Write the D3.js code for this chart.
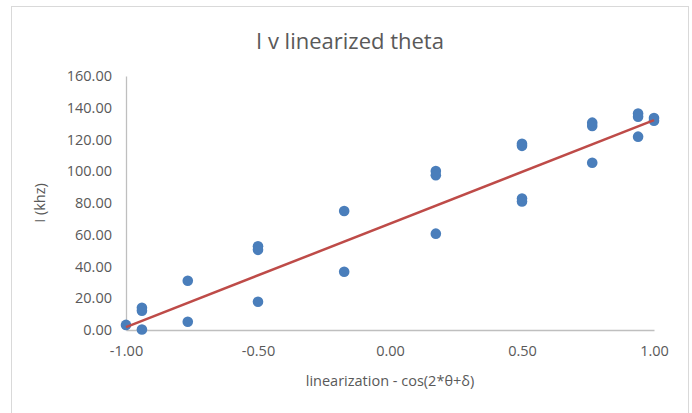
<!DOCTYPE html>
<html>
<head>
<meta charset="utf-8">
<script src="https://cdn.jsdelivr.net/npm/d3@7"></script>
<style>
  html, body { margin: 0; padding: 0; background: #ffffff; }
  svg { display: block; }
  text { font-family: "Open Sans", "Liberation Sans", sans-serif; fill: #595959; }
</style>
</head>
<body>
<svg id="chart" width="692" height="413"></svg>
<script>
// ---- data ----
const title = "I v linearized theta";
const xTitle = "linearization - cos(2*\u03B8+\u03B4)";
const yTitle = "I (khz)";

const xValues = [
  -1,
  -0.9397, -0.9397, -0.9397,
  -0.766, -0.766,
  -0.5, -0.5, -0.5,
  -0.1736, -0.1736,
  0.1736, 0.1736, 0.1736,
  0.5, 0.5, 0.5, 0.5,
  0.766, 0.766, 0.766,
  0.9397, 0.9397, 0.9397,
  1, 1
];
const yValues = [
  3.2,
  14.0, 12.2, 0.3,
  31.0, 5.2,
  52.8, 50.5, 17.8,
  75.0, 36.7,
  100.2, 97.5, 60.7,
  117.3, 116.0, 82.8, 81.0,
  130.6, 128.5, 105.4,
  136.4, 134.3, 121.8,
  133.5, 131.8
];
const trendX = [-1, 1];
const trendY = [1.8, 132.2];

const xTicks = [-1, -0.5, 0, 0.5, 1];
const yTicks = [0, 20, 40, 60, 80, 100, 120, 140, 160];

// ---- layout ----
const svg = d3.select("#chart");
const plot = { left: 126, right: 654, top: 76, bottom: 330 };

const x = d3.scaleLinear().domain([-1, 1]).range([plot.left, plot.right]);
const y = d3.scaleLinear().domain([0, 160]).range([plot.bottom, plot.top]);

const fmt = d => d3.format(".2f")(d).replace("\u2212", "-");

// chart border
svg.append("rect")
  .attr("x", 11.5).attr("y", 6.5)
  .attr("width", 677).attr("height", 430)
  .attr("fill", "#ffffff")
  .attr("stroke", "#d9d9d9").attr("stroke-width", 1);

// title
svg.append("text")
  .attr("x", 350).attr("y", 49)
  .attr("text-anchor", "middle")
  .attr("font-size", 22)
  .text(title);

// axes
const xAxis = d3.axisBottom(x).tickValues(xTicks).tickFormat(fmt).tickSize(0).tickPadding(16);
const yAxis = d3.axisLeft(y).tickValues(yTicks).tickFormat(fmt).tickSize(0).tickPadding(14);

const gx = svg.append("g").attr("transform", `translate(0,${plot.bottom})`).call(xAxis);
const gy = svg.append("g").attr("transform", `translate(${plot.left},0)`).call(yAxis);

[gx, gy].forEach(g => {
  g.select(".domain").attr("stroke", "#bfbfbf").attr("stroke-width", 1.3);
  g.selectAll("text").attr("font-size", 14.5).attr("fill", "#595959")
    .attr("font-family", "\"Open Sans\", \"Liberation Sans\", sans-serif");
});

// axis titles
svg.append("text")
  .attr("x", 390).attr("y", 386)
  .attr("text-anchor", "middle")
  .attr("font-size", 14.5)
  .text(xTitle);

svg.append("text")
  .attr("transform", `translate(45,${(plot.top + plot.bottom) / 2}) rotate(-90)`)
  .attr("text-anchor", "middle")
  .attr("font-size", 14.5)
  .text(yTitle);

// points
const pts = xValues.map((v, i) => ({ x: v, y: yValues[i] }));
svg.append("g").selectAll("circle")
  .data(pts)
  .enter().append("circle")
  .attr("cx", d => x(d.x))
  .attr("cy", d => y(d.y))
  .attr("r", 5.3)
  .attr("fill", "#4a7ebb");

// trendline
const line = d3.line().x(d => x(d[0])).y(d => y(d[1]));
svg.append("path")
  .datum(trendX.map((v, i) => [v, trendY[i]]))
  .attr("d", line)
  .attr("fill", "none")
  .attr("stroke", "#be4b48")
  .attr("stroke-width", 2.5);
</script>
</body>
</html>
